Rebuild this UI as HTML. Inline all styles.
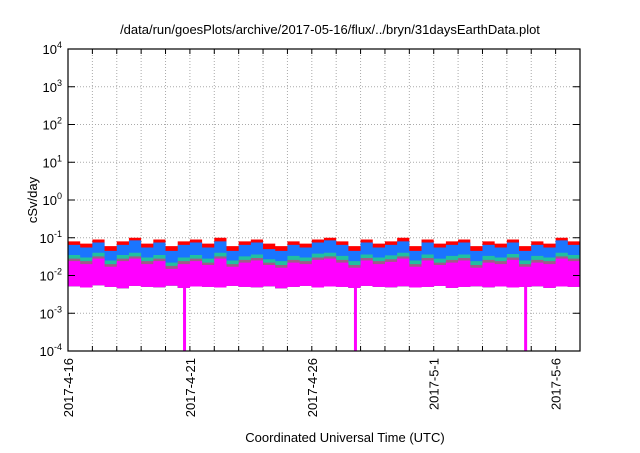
<!DOCTYPE html>
<html><head><meta charset="utf-8"><style>
body{margin:0;background:#fff;}
svg{font-family:"Liberation Sans",sans-serif;}
</style></head><body>
<svg id="chart" width="640" height="448" viewBox="0 0 640 448">
<text x="330" y="34" font-size="13" text-anchor="middle">/data/run/goesPlots/archive/2017-05-16/flux/../bryn/31daysEarthData.plot</text>
<text x="345" y="442" font-size="13" text-anchor="middle">Coordinated Universal Time (UTC)</text>
<text transform="translate(37,200) rotate(-90)" font-size="13" text-anchor="middle">cSv/day</text>
<g id="grid"></g><g id="series"></g><g id="axes"></g>
</svg>
<script>
const dayLabels=["2017-4-16","2017-4-21","2017-4-26","2017-5-1","2017-5-6"];
const dayLabelOffsets=[0,5,10,15,20];
const yExponents=[4,3,2,1,0,-1,-2,-3,-4];
const redTop=[0.08,0.07,0.09,0.06,0.08,0.10,0.07,0.09,0.06,0.08,0.09,0.07,0.10,0.06,0.08,0.09,0.07,0.06,0.08,0.07,0.09,0.10,0.08,0.06,0.09,0.07,0.08,0.10,0.06,0.09,0.07,0.08,0.09,0.06,0.08,0.07,0.09,0.06,0.08,0.07,0.10,0.08];
const blueTop=[0.065,0.055,0.075,0.045,0.065,0.085,0.055,0.075,0.045,0.065,0.075,0.055,0.08,0.045,0.065,0.075,0.05,0.045,0.065,0.055,0.075,0.085,0.065,0.045,0.075,0.055,0.065,0.08,0.045,0.075,0.055,0.065,0.075,0.045,0.065,0.055,0.075,0.045,0.065,0.055,0.085,0.065];
const tealTop=[0.035,0.03,0.04,0.025,0.035,0.04,0.03,0.035,0.022,0.03,0.035,0.028,0.04,0.025,0.032,0.036,0.027,0.024,0.033,0.03,0.038,0.04,0.033,0.024,0.036,0.03,0.034,0.04,0.025,0.036,0.028,0.033,0.036,0.024,0.033,0.03,0.037,0.025,0.033,0.03,0.04,0.035];
const grayTop=[0.028,0.024,0.032,0.02,0.028,0.032,0.024,0.028,0.018,0.024,0.028,0.022,0.032,0.02,0.026,0.029,0.022,0.019,0.026,0.024,0.03,0.032,0.026,0.019,0.029,0.024,0.027,0.032,0.02,0.029,0.022,0.026,0.029,0.019,0.026,0.024,0.03,0.02,0.026,0.024,0.032,0.028];
const magentaTop=[0.024,0.02,0.028,0.017,0.024,0.028,0.02,0.024,0.015,0.02,0.024,0.019,0.028,0.017,0.022,0.025,0.019,0.016,0.022,0.02,0.026,0.028,0.022,0.016,0.025,0.02,0.023,0.028,0.017,0.025,0.019,0.022,0.025,0.016,0.022,0.02,0.026,0.017,0.022,0.02,0.028,0.024];
const magentaBottom=[0.0052,0.0048,0.0055,0.005,0.0046,0.0053,0.005,0.0049,0.0054,0.0047,0.0051,0.005,0.0048,0.0053,0.005,0.0049,0.0052,0.0046,0.005,0.0053,0.0048,0.0051,0.005,0.0047,0.0053,0.005,0.0049,0.0052,0.0048,0.005,0.0053,0.0047,0.005,0.0052,0.0049,0.0051,0.0048,0.005,0.0052,0.0047,0.0051,0.005];
const dipDays=[4.78,11.79,18.77];
const dipValue=1e-4;

const L=68,R=580,T=49,B=351,NS="http://www.w3.org/2000/svg";
const xs=d=>L+(R-L)*d/21;
const ys=v=>T+(B-T)*(4-Math.log10(v))/8;
function mk(tag,at,parent){const e=document.createElementNS(NS,tag);for(const k in at)e.setAttribute(k,at[k]);parent.appendChild(e);return e;}
const grid=document.getElementById('grid'),ser=document.getElementById('series'),axes=document.getElementById('axes');
yExponents.forEach(ex=>{const y=ys(Math.pow(10,ex));
 if(ex<4&&ex>-4){const g=mk('line',{x1:L,x2:R,y1:y,y2:y,stroke:'#aaa','stroke-dasharray':'1,2','stroke-width':1},grid);
 
 }
 const t=mk('line',{x1:L,x2:L+7,y1:y,y2:y,stroke:'#000'},axes);
 
 
 const t2=mk('line',{x1:R,x2:R-7,y1:y,y2:y,stroke:'#000'},axes);
 
 
 const lb=mk('text',{x:L-24,y:y+5,'font-size':13,'text-anchor':'end'},axes);
 lb.textContent='10';
 const sp=mk('tspan',{dy:-6,'font-size':9},lb);sp.textContent=ex;
 
 
 lb.setAttribute('x',L-6);
});
for(let d=1;d<21;d++){const x=xs(d);
 const g=mk('line',{x1:x,x2:x,y1:T,y2:B,stroke:'#aaa','stroke-dasharray':'1,2','stroke-width':1},grid);
 
 
 const t=mk('line',{x1:x,x2:x,y1:B,y2:B-5,stroke:'#000'},axes);
 
 
 const t2=mk('line',{x1:x,x2:x,y1:T,y2:T+5,stroke:'#000'},axes);
 
 }
dayLabels.forEach((s,i)=>{const x=xs(dayLabelOffsets[i]);
 const lb=mk('text',{transform:`translate(${x+5},${B+7}) rotate(-90)`,'font-size':13,'text-anchor':'end'},axes);
 lb.textContent=s;
 
 });
const n=redTop.length,w=21/n;
function band(top,bot,color,name){let p='';
 for(let i=0;i<n;i++){const x0=xs(i*w),x1=xs((i+1)*w);p+=(i?'L':'M')+x0+','+ys(top[i])+'L'+x1+','+ys(top[i]);}
 for(let i=n-1;i>=0;i--){const x0=xs(i*w),x1=xs((i+1)*w);const b=Array.isArray(bot)?bot[i]:bot;p+='L'+x1+','+ys(b)+'L'+x0+','+ys(b);}
 const e=mk('path',{d:p+'Z',fill:color},ser);
 
 }
band(redTop,magentaBottom,'#ff0000','series-red');
band(blueTop,magentaBottom,'#1a75ff','series-blue');
band(tealTop,magentaBottom,'#20c0a0','series-teal');
band(grayTop,magentaBottom,'#a05a8a','series-gray');
band(magentaTop,magentaBottom,'#ff00ff','series-magenta');
dipDays.forEach(d=>{const e=mk('rect',{x:xs(d)-1.5,y:ys(0.005),width:3,height:ys(dipValue)-ys(0.005),fill:'#ff00ff'},ser);
 
 });
const fr=mk('rect',{x:L,y:T,width:R-L,height:B-T,fill:'none',stroke:'#000','stroke-width':1.2},axes);


</script>
</body></html>
